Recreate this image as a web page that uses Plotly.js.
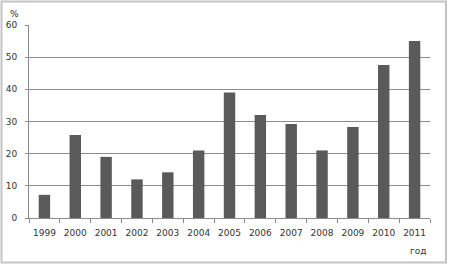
<!DOCTYPE html>
<html><head><meta charset="utf-8">
<script src="https://cdn.plot.ly/plotly-3.0.1.min.js"></script>
<style>html,body{margin:0;padding:0;background:#fff;}#chart{width:453px;height:268px;}</style>
</head><body><div id="chart"></div>
<script>
var years = ['1999','2000','2001','2002','2003','2004','2005','2006','2007','2008','2009','2010','2011'];
var values = [7.2, 25.8, 19.0, 12.0, 14.2, 21.0, 39.0, 32.0, 29.2, 21.0, 28.3, 47.6, 55.0];
var yTicks = [0, 10, 20, 30, 40, 50, 60];
var yUnit = '%';
var xUnit = 'год';

var L = 29, R = 23, T = 25, B = 50, W = 453, H = 268;
var pw = W - L - R, ph = H - T - B;
function px(x){ return (x - L) / pw; }
function py(y){ return (H - B - y) / ph; }

var font = {family: 'DejaVu Sans, Verdana, sans-serif', size: 9, color: '#333333'};

Plotly.newPlot('chart', [{
  type: 'bar', x: years, y: values,
  marker: {color: '#5a5a5a', line: {width: 0}},
  hoverinfo: 'none'
}], {
  width: W, height: H,
  margin: {l: L, r: R, t: T, b: B, pad: 0},
  paper_bgcolor: '#ffffff', plot_bgcolor: '#ffffff',
  bargap: 0.63,
  showlegend: false,
  font: font,
  xaxis: {
    type: 'category', showgrid: false, showline: true, linecolor: '#8c8c8c', linewidth: 1,
    ticks: 'outside', tickson: 'boundaries', ticklen: 4, tickcolor: '#8c8c8c',
    tickangle: 0, ticklabelstandoff: 6,
    tickfont: font, fixedrange: true
  },
  yaxis: {
    range: [0, 60], tickvals: yTicks, ticktext: yTicks.map(String),
    showgrid: true, gridcolor: '#8c8c8c', gridwidth: 1,
    showline: true, linecolor: '#8c8c8c', linewidth: 1,
    ticks: 'outside', ticklen: 3, tickcolor: '#8c8c8c',
    zeroline: false, tickfont: font, ticklabelstandoff: 6, fixedrange: true
  },
  annotations: [
    {text: yUnit, xref: 'paper', yref: 'paper', x: px(14), y: py(14), xanchor: 'center', yanchor: 'middle', showarrow: false, font: font},
    {text: xUnit, xref: 'paper', yref: 'paper', x: px(418), y: py(251), xanchor: 'center', yanchor: 'middle', showarrow: false, font: font}
  ],
  shapes: [
    {type: 'rect', xref: 'paper', yref: 'paper', x0: px(1.5), x1: px(446), y0: py(1.5), y1: py(262.5),
     line: {color: '#c4c4c4', width: 2}, layer: 'below'}
  ]
}, {staticPlot: true});
</script></body></html>
